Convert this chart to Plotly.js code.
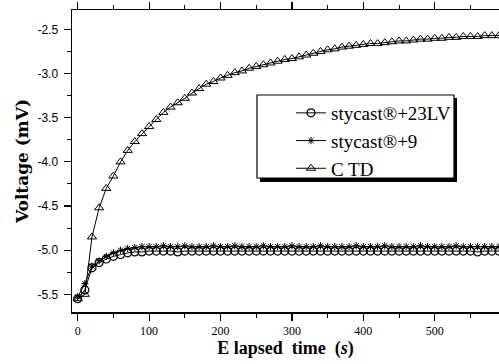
<!DOCTYPE html>
<html>
<head>
<meta charset="utf-8">
<script src="https://cdn.plot.ly/plotly-3.0.1.min.js"></script>
<style>html,body{margin:0;padding:0;background:#fff;}#chart{width:499px;height:364px;}</style>
</head>
<body>
<div id="chart"></div>
<script>
// Elapsed time (s)
var timeS = [0,10,20,30,40,50,60,70,80,90,100,110,120,130,140,150,160,170,180,190,
  200,210,220,230,240,250,260,270,280,290,300,310,320,330,340,350,360,370,380,390,
  400,410,420,430,440,450,460,470,480,490,500,510,520,530,540,550,560,570,580,590];
// stycast®+23LV (circles)
var v23LV = [-5.55,-5.45,-5.20,-5.14,-5.10,-5.07,-5.05,-5.03,-5.02,-5.02,-5.01,-5.01,-5.01,-5.01,-5.02,-5.01,-5.01,-5.01,-5.01,-5.01,
  -5.01,-5.01,-5.01,-5.01,-5.01,-5.01,-5.01,-5.01,-5.01,-5.01,-5.01,-5.01,-5.01,-5.01,-5.01,-5.01,-5.01,-5.01,-5.01,-5.01,
  -5.01,-5.01,-5.01,-5.01,-5.01,-5.01,-5.01,-5.01,-5.01,-5.01,-5.01,-5.01,-5.01,-5.01,-5.01,-5.01,-5.02,-5.01,-5.01,-5.01];
// stycast®+9 (asterisks)
var v9 = [-5.53,-5.38,-5.18,-5.12,-5.07,-5.03,-5.00,-4.98,-4.97,-4.96,-4.96,-4.96,-4.95,-4.96,-4.96,-4.95,-4.96,-4.96,-4.96,-4.95,
  -4.96,-4.96,-4.95,-4.96,-4.96,-4.96,-4.95,-4.96,-4.96,-4.96,-4.95,-4.96,-4.96,-4.96,-4.95,-4.96,-4.96,-4.96,-4.96,-4.95,
  -4.96,-4.96,-4.96,-4.95,-4.96,-4.96,-4.96,-4.96,-4.95,-4.96,-4.96,-4.96,-4.96,-4.95,-4.96,-4.96,-4.96,-4.96,-4.96,-4.96];
// CTD (triangles)
var vCTD = [-5.55,-5.50,-4.85,-4.52,-4.30,-4.16,-4.00,-3.87,-3.77,-3.68,-3.60,-3.52,-3.44,-3.38,-3.33,-3.28,-3.22,-3.17,-3.12,-3.09,
  -3.05,-3.02,-2.99,-2.97,-2.94,-2.92,-2.90,-2.88,-2.86,-2.84,-2.83,-2.81,-2.79,-2.77,-2.75,-2.73,-2.72,-2.70,-2.69,-2.68,
  -2.67,-2.66,-2.66,-2.65,-2.64,-2.63,-2.63,-2.62,-2.61,-2.61,-2.60,-2.60,-2.59,-2.59,-2.58,-2.58,-2.58,-2.57,-2.57,-2.57];
var seriesNames = ['stycast®+23LV','stycast®+9','C TD'];
var xTickVals = [0,100,200,300,400,500];
var yTickVals = [-5.5,-5.0,-4.5,-4.0,-3.5,-3.0,-2.5];

var W = 499, H = 364, L = 72, T = 10, R = 0, B = 52;
var pw = W - L - R, ph = H - T - B;
function px2x(p){ return (p - L) / pw; }
function px2y(p){ return (H - B - p) / ph; }

var lineStyle = {color:'#000', width:1};
var traces = [
  {x: timeS, y: v23LV, name: seriesNames[0], type:'scatter', mode:'lines+markers', legendgroup:'a',
   line: lineStyle, marker:{symbol:'circle-open', size:8, color:'#000', line:{width:1.2, color:'#000'}}},
  {x: timeS, y: v9, name: seriesNames[1], type:'scatter', mode:'lines+markers', legendgroup:'b',
   line: lineStyle, marker:{symbol:'asterisk-open', size:6, color:'#000', line:{width:1, color:'#000'}}},
  {x: timeS, y: vCTD, name: seriesNames[2], type:'scatter', mode:'lines+markers', legendgroup:'c',
   line: lineStyle, marker:{symbol:'triangle-up-open', size:8, color:'#000', line:{width:1, color:'#000'}}}
];

var axisCommon = {
  showgrid:false, zeroline:false, showline:true, linecolor:'#000', linewidth:1.5,
  ticks:'outside', ticklen:7, tickwidth:1.2, tickcolor:'#000', mirror:'ticks'
};

var layout = {
  width: W, height: H,
  margin: {l:L, r:R, t:T, b:B, pad:0},
  paper_bgcolor:'#fff', plot_bgcolor:'#fff',
  showlegend:true,
  legend: {x: px2x(291), y: px2y(94), xanchor:'left', yanchor:'top',
    bgcolor:'rgba(0,0,0,0)', borderwidth:0, tracegroupgap:0,
    font:{family:'Liberation Serif, Times New Roman, serif', size:19, color:'#000'}},
  shapes: [
    {type:'rect', xref:'paper', yref:'paper', x0:px2x(260), x1:px2x(457), y0:px2y(182), y1:px2y(98),
     fillcolor:'#000', line:{width:0}, layer:'above'},
    {type:'rect', xref:'paper', yref:'paper', x0:px2x(257), x1:px2x(454), y0:px2y(178), y1:px2y(95),
     fillcolor:'#fff', line:{width:1.2, color:'#000'}, layer:'above'}
  ],
  xaxis: Object.assign({}, axisCommon, {
    range:[-8, 590], tickvals: xTickVals, ticktext: xTickVals.map(String),
    minor:{dtick:50, tick0:0, ticks:'outside', ticklen:4, tickcolor:'#000', tickwidth:1},
    tickfont:{family:'Liberation Serif, Times New Roman, serif', size:12, color:'#000'},
    title:{text:'<b>E lapsed&nbsp; time&nbsp; (<i>s</i>)</b>', standoff:4,
      font:{family:'Liberation Serif, Times New Roman, serif', size:18, color:'#000'}}
  }),
  yaxis: Object.assign({}, axisCommon, {
    range:[-5.70, -2.28], tickvals: yTickVals, ticktext: yTickVals.map(function(v){return v.toFixed(1);}),
    minor:{dtick:0.25, tick0:-2.5, ticks:'outside', ticklen:4, tickcolor:'#000', tickwidth:1},
    tickfont:{family:'Liberation Sans, Arial, sans-serif', size:12, color:'#000'},
    ticklabelstandoff:3,
    title:{text:'<b>Voltage (mV)</b>', standoff:4,
      font:{family:'DejaVu Serif, serif', size:17, color:'#000'}}
  })
};

Plotly.newPlot('chart', traces, layout, {displayModeBar:false, staticPlot:true});
</script>
</body>
</html>
